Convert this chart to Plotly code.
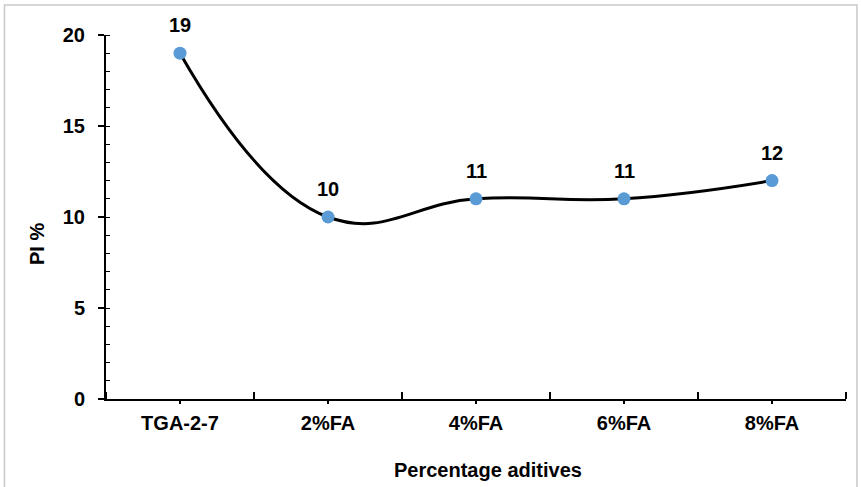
import plotly.graph_objects as go

categories = ["TGA-2-7", "2%FA", "4%FA", "6%FA", "8%FA"]
pi_values = [19, 10, 11, 11, 12]
y_ticks = [0, 5, 10, 15, 20]
x_title = "Percentage aditives"
y_title = "PI %"

x_pos = list(range(len(categories)))
FONT = "Liberation Sans, Arial, sans-serif"
BOLD20 = dict(family=FONT, size=20, color="black", weight="bold")

# plot area in pixels: x 106..846, y 35..399
L, R, T, B = 106, 846, 35, 399
W, H = 861, 487
PW, PH = R - L, B - T

fig = go.Figure()
fig.add_trace(go.Scatter(
    x=x_pos, y=pi_values,
    mode="lines+markers",
    line=dict(color="black", width=3, shape="spline", smoothing=1.25),
    marker=dict(color="#5B9BD5", size=13),
    cliponaxis=False,
    hoverinfo="skip",
))

annotations = []
for xv, yv in zip(x_pos, pi_values):
    annotations.append(dict(x=xv, y=yv, xref="x", yref="y", text=str(yv),
                            showarrow=False, yshift=28, font=BOLD20,
                            xanchor="center", yanchor="middle"))
annotations.append(dict(x=(488 - L) / PW, y=(B - 470) / PH, xref="paper", yref="paper",
                        text=x_title, showarrow=False, font=BOLD20,
                        xanchor="center", yanchor="middle"))
annotations.append(dict(x=(37 - L) / PW, y=(B - 244) / PH, xref="paper", yref="paper",
                        text=y_title, showarrow=False, font=BOLD20, textangle=-90,
                        xanchor="center", yanchor="middle"))

fig.update_layout(
    width=W, height=H,
    margin=dict(l=L, r=W - R, t=T, b=H - B),
    paper_bgcolor="white", plot_bgcolor="white",
    showlegend=False,
    font=dict(family=FONT, color="black"),
    xaxis=dict(
        range=[-0.5, 4.5], tickvals=x_pos, ticktext=categories,
        showgrid=False, zeroline=False,
        showline=True, linecolor="black", linewidth=2,
        ticks="outside", ticklen=3, tickwidth=1.5, tickcolor="black",
        tickfont=BOLD20, ticklabelstandoff=2,
        minor=dict(ticks="inside", tick0=-0.5, dtick=1, ticklen=7, tickwidth=1.5,
                   tickcolor="black", showgrid=False),
    ),
    yaxis=dict(
        range=[0, 20], tickvals=y_ticks,
        showgrid=False, zeroline=False,
        showline=True, linecolor="black", linewidth=2,
        ticks="outside", ticklen=6, tickwidth=1.5, tickcolor="black",
        tickfont=BOLD20, ticklabelstandoff=9,
        minor=dict(ticks="inside", tick0=0, dtick=1, ticklen=4, tickwidth=1,
                   tickcolor="black", showgrid=False),
    ),
    annotations=annotations,
    shapes=[dict(type="rect", xref="paper", yref="paper",
                 x0=(4.5 - L) / PW, x1=(857 - L) / PW,
                 y0=(B - 492) / PH, y1=(B - 5) / PH,
                 line=dict(color="#C8C8C8", width=1.5), layer="below")],
)

fig.write_html("out.html", config={"displayModeBar": False},
               post_script="document.body.style.margin='0';")
